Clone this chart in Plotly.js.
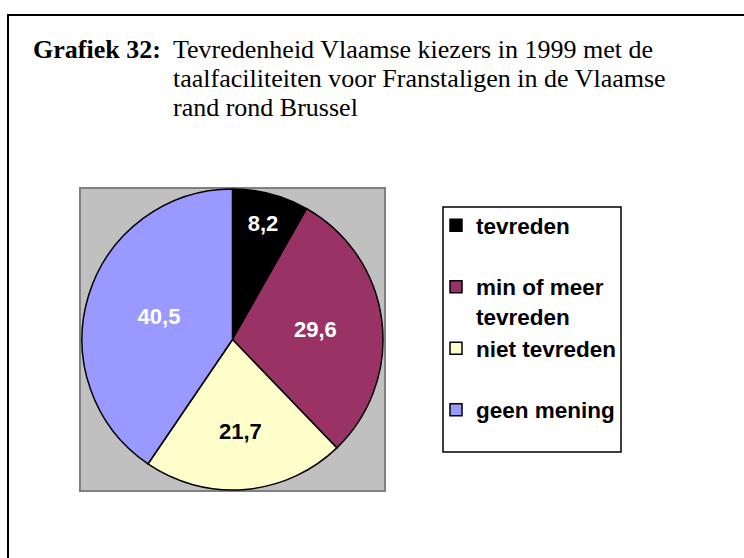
<!DOCTYPE html>
<html>
<head>
<meta charset="utf-8">
<script src="https://cdn.plot.ly/plotly-3.0.1.min.js"></script>
<style>html,body{margin:0;padding:0;background:#fff;}</style>
</head>
<body>
<div id="chart" style="width:744px;height:558px;"></div>
<script>
// ---- data ----
const categories = ["tevreden", "min of meer<br>tevreden", "niet tevreden", "geen mening"];
const values = [8.2, 29.6, 21.7, 40.5];
const sliceColors = ["#000000", "#993366", "#FFFFCC", "#9999FF"];
const labelColors = ["#FFFFFF", "#FFFFFF", "#000000", "#FFFFFF"];
const titleLabel = "Grafiek 32:";
const titleLines = [
  "Tevredenheid Vlaamse kiezers in 1999 met de",
  "taalfaciliteiten voor Franstaligen in de Vlaamse",
  "rand rond Brussel"
];

// ---- helpers (pixel -> paper) ----
const W = 744, H = 558;
const px = v => v / W;
const py = v => 1 - v / H;

// pad every legend label to two lines so entries are evenly spaced
const legendLabels = categories.map(c => c.split("<br>").length < 2 ? c + "<br> " : c);

const trace = {
  type: "pie",
  labels: legendLabels,
  values: values,
  sort: false,
  direction: "clockwise",
  rotation: 0,
  marker: { colors: sliceColors, line: { color: "#000000", width: 1.5 } },
  texttemplate: "%{value:.1f}",
  textposition: "inside",
  insidetextorientation: "horizontal",
  insidetextfont: { family: "Liberation Sans, Arial, sans-serif", size: 22, weight: "bold", color: labelColors },
  hoverinfo: "none",
  domain: { x: [px(81), px(384)], y: [py(490), py(189)] }
};

const serif = "Liberation Serif, Times New Roman, serif";
const titleY = [50, 79, 107.5];
const annotations = [
  { text: "<b>" + titleLabel + "</b>", xref: "paper", yref: "paper", x: px(31), y: py(titleY[0]),
    xanchor: "left", yanchor: "middle", showarrow: false, font: { family: serif, size: 26, color: "#000" } }
].concat(titleLines.map((t, i) => ({
  text: t, xref: "paper", yref: "paper", x: px(171), y: py(titleY[i]),
  xanchor: "left", yanchor: "middle", showarrow: false, font: { family: serif, size: 26, color: "#000" }
})));

const layout = {
  width: W, height: H,
  margin: { l: 0, r: 0, t: 0, b: 0 },
  paper_bgcolor: "#FFFFFF",
  separators: ", ",
  showlegend: true,
  legend: {
    x: px(436), y: py(204), xanchor: "left", yanchor: "top",
    bgcolor: "rgba(0,0,0,0)", borderwidth: 0,
    valign: "top",
    font: { family: "Liberation Sans, Arial, sans-serif", size: 22.5, weight: "bold", color: "#000" }
  },
  shapes: [
    // outer frame
    { type: "rect", xref: "paper", yref: "paper", x0: px(8), x1: px(770), y0: py(15), y1: py(590),
      line: { color: "#000", width: 2 }, fillcolor: "rgba(0,0,0,0)", layer: "below" },
    // plot area
    { type: "rect", xref: "paper", yref: "paper", x0: px(80), x1: px(385), y0: py(491), y1: py(188),
      line: { color: "#808080", width: 2 }, fillcolor: "#C0C0C0", layer: "below" },
    // legend box
    { type: "rect", xref: "paper", yref: "paper", x0: px(443), x1: px(621), y0: py(452), y1: py(207),
      line: { color: "#000", width: 1.5 }, fillcolor: "#FFFFFF", layer: "below" }
  ],
  annotations: annotations
};

Plotly.newPlot("chart", [trace], layout, { staticPlot: true, displayModeBar: false });
</script>
</body>
</html>
